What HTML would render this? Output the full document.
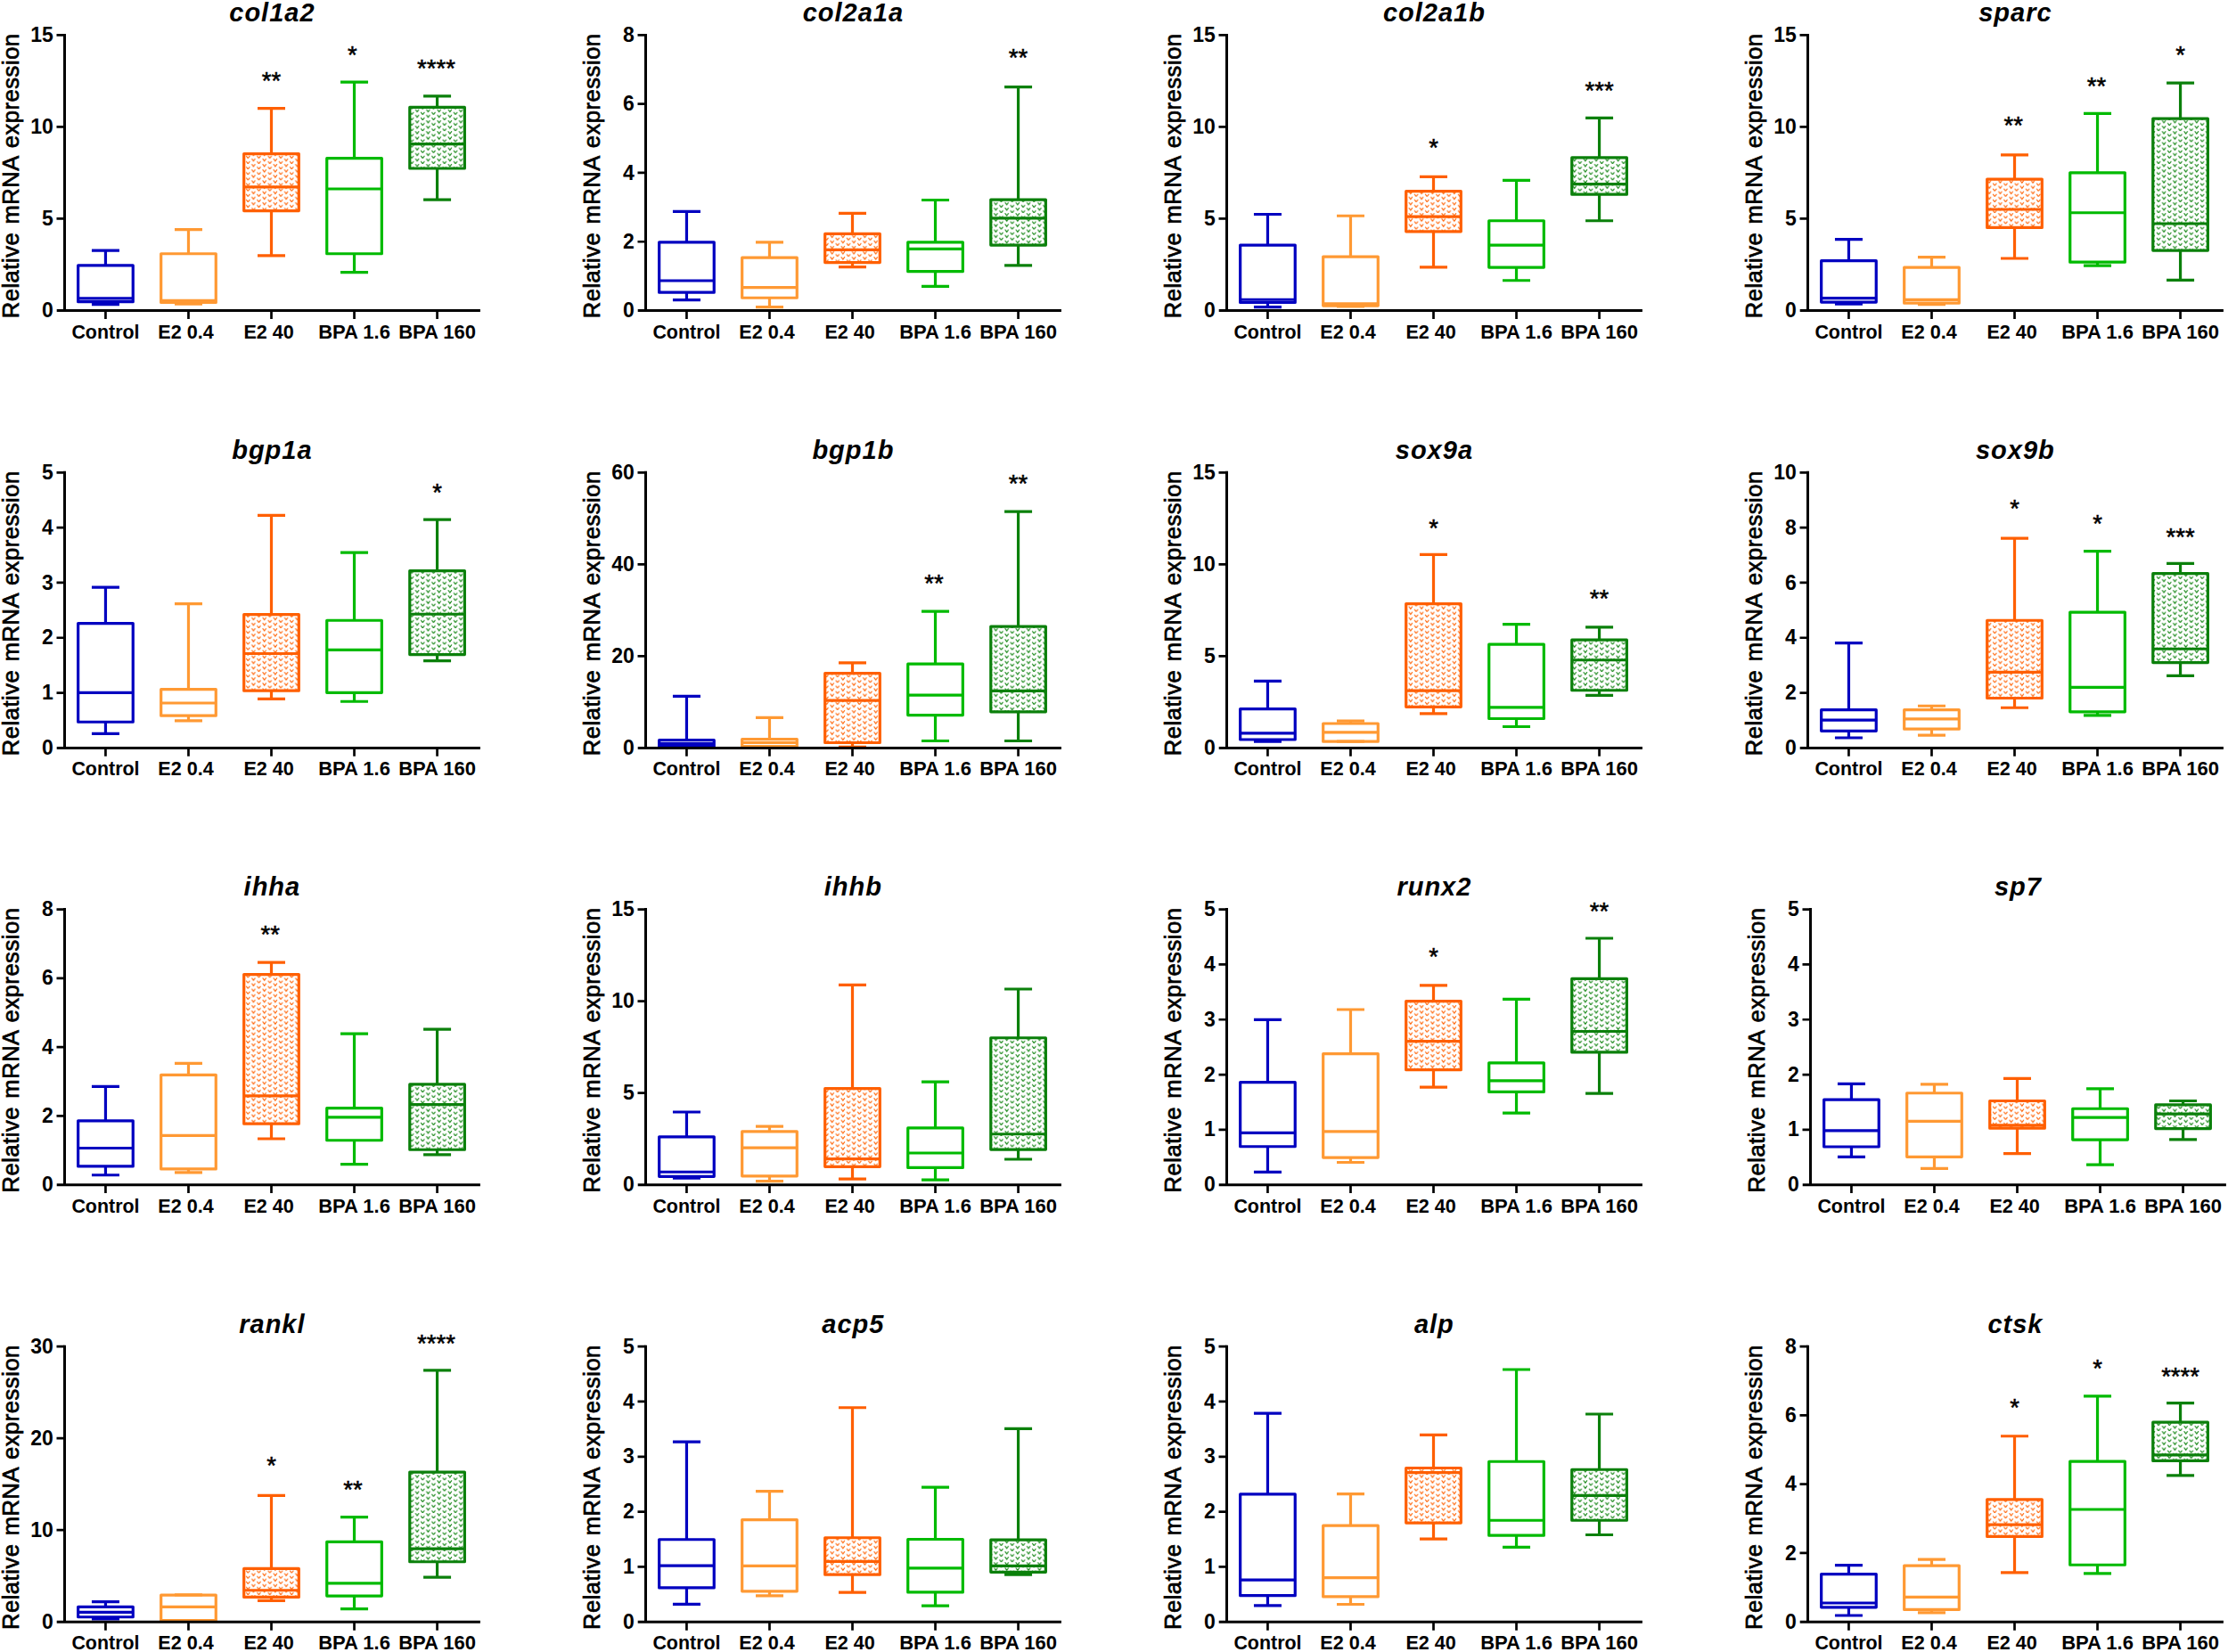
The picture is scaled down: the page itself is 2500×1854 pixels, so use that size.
<!DOCTYPE html>
<html lang="en"><head><meta charset="utf-8"><title>Relative mRNA expression box plots</title>
<style>html,body{margin:0;padding:0;background:#fff}svg{display:block}text{font-family:"Liberation Sans",sans-serif;fill:#000}.t{font-weight:bold;font-style:italic;font-size:29px;text-anchor:middle;letter-spacing:1px}.yl{font-size:25.5px;text-anchor:middle;letter-spacing:0.55px;word-spacing:1.7px;stroke:#000;stroke-width:0.7px}.tk{font-weight:bold;font-size:23px;text-anchor:end}.xl{font-weight:bold;font-size:21px;text-anchor:middle}.st{font-size:27.5px;text-anchor:middle;stroke:#000;stroke-width:0.5px}.ax{stroke:#000;stroke-width:3;fill:none;stroke-linecap:butt}.b{stroke-width:3.2;stroke-linejoin:round;stroke-linecap:butt}</style></head><body>
<svg width="2500" height="1854" viewBox="0 0 2500 1854">
<rect width="2500" height="1854" fill="#fff"/>
<defs><pattern id="po" width="12.25" height="6.13" patternUnits="userSpaceOnUse"><rect width="12.25" height="6.13" fill="#fff"/><path d="M0.9 0.6l1.75 2.3l1.75 -2.3M7.03 3.67l1.75 2.3l1.75 -2.3M-5.22 3.67l1.75 2.3l1.75 -2.3" fill="none" stroke="#FF5F00" stroke-width="1.15" stroke-opacity="0.95" stroke-linecap="round"/></pattern><pattern id="pg" width="12.25" height="6.13" patternUnits="userSpaceOnUse"><rect width="12.25" height="6.13" fill="#fff"/><path d="M0.9 0.6l1.75 2.3l1.75 -2.3M7.03 3.67l1.75 2.3l1.75 -2.3M-5.22 3.67l1.75 2.3l1.75 -2.3" fill="none" stroke="#0B800B" stroke-width="1.15" stroke-opacity="0.95" stroke-linecap="round"/></pattern></defs>
<g>
<text class="tk" x="59.9" y="356.1">0</text>
<text class="tk" x="59.9" y="253.07">5</text>
<text class="tk" x="59.9" y="150.03">10</text>
<text class="tk" x="59.9" y="47">15</text>
<text class="yl" transform="translate(20.8 197.35) rotate(-90)">Relative mRNA expression</text>
<text class="t" x="305.4" y="24.1">col1a2</text>
<text class="xl" style="font-size:21.4px" x="118.45" y="379.7">Control</text>
<text class="xl" style="font-size:21.6px" x="208.58" y="379.7">E2 0.4</text>
<text class="xl" style="font-size:21.6px" x="301.61" y="379.7">E2 40</text>
<text class="xl" style="font-size:22px" x="397.54" y="379.7">BPA 1.6</text>
<text class="xl" style="font-size:22px" x="490.57" y="379.7">BPA 160</text>
<rect class="b" x="87.65" y="297.9" width="61.6" height="40.75" fill="none" stroke="#0000C0"/>
<path class="b" d="M118.45 281.03V297.9M118.45 338.64V341.71M102.95 281.03H133.95M102.95 341.71H133.95M87.65 334.92H149.25" fill="none" stroke="#0000C0"/>
<rect class="b" x="180.68" y="284.75" width="61.6" height="54.77" fill="none" stroke="#FF9933"/>
<path class="b" d="M211.48 257.59V284.75M211.48 339.52V341.27M195.98 257.59H226.98M195.98 341.27H226.98M180.68 337.33H242.28" fill="none" stroke="#FF9933"/>
<rect class="b" x="273.71" y="172.59" width="61.6" height="63.97" fill="url(#po)" stroke="#FF5F00"/>
<path class="b" d="M304.51 121.55V172.59M304.51 236.56V286.94M289.01 121.55H320.01M289.01 286.94H320.01M273.71 209.83H335.31" fill="none" stroke="#FF5F00"/>
<rect class="b" x="366.74" y="177.63" width="61.6" height="107.12" fill="none" stroke="#00BA00"/>
<path class="b" d="M397.54 92.19V177.63M397.54 284.75V305.56M382.04 92.19H413.04M382.04 305.56H413.04M366.74 212.02H428.34" fill="none" stroke="#00BA00"/>
<rect class="b" x="459.77" y="120.45" width="61.6" height="68.57" fill="url(#pg)" stroke="#0B800B"/>
<path class="b" d="M490.57 107.97V120.45M490.57 189.02V224.07M475.07 107.97H506.07M475.07 224.07H506.07M459.77 161.64H521.37" fill="none" stroke="#0B800B"/>
<path class="ax" d="M72.5 37.9V350M63.7 348.5H538.9"/>
<path class="ax" style="stroke-width:2.7" d="M63.5 245.47H72.5M63.5 142.43H72.5M63.5 39.4H72.5M118.45 348.5V357.9M211.48 348.5V357.9M304.51 348.5V357.9M397.54 348.5V357.9M490.57 348.5V357.9"/>
<text class="st" x="304.51" y="100.02">**</text>
<text class="st" x="395.34" y="70.88">*</text>
<text class="st" x="489.47" y="86.22">****</text>
</g>
<g>
<text class="tk" x="711.9" y="356.1">0</text>
<text class="tk" x="711.9" y="278.83">2</text>
<text class="tk" x="711.9" y="201.55">4</text>
<text class="tk" x="711.9" y="124.27">6</text>
<text class="tk" x="711.9" y="47">8</text>
<text class="yl" transform="translate(672.8 197.35) rotate(-90)">Relative mRNA expression</text>
<text class="t" x="957.4" y="24.1">col2a1a</text>
<text class="xl" style="font-size:21.4px" x="770.45" y="379.7">Control</text>
<text class="xl" style="font-size:21.6px" x="860.58" y="379.7">E2 0.4</text>
<text class="xl" style="font-size:21.6px" x="953.61" y="379.7">E2 40</text>
<text class="xl" style="font-size:22px" x="1049.54" y="379.7">BPA 1.6</text>
<text class="xl" style="font-size:22px" x="1142.57" y="379.7">BPA 160</text>
<rect class="b" x="739.65" y="271.83" width="61.6" height="56.3" fill="none" stroke="#0000C0"/>
<path class="b" d="M770.45 237.43V271.83M770.45 328.13V336.67M754.95 237.43H785.95M754.95 336.67H785.95M739.65 314.98H801.25" fill="none" stroke="#0000C0"/>
<rect class="b" x="832.68" y="289.13" width="61.6" height="45.13" fill="none" stroke="#FF9933"/>
<path class="b" d="M863.48 271.83V289.13M863.48 334.26V344.56M847.98 271.83H878.98M847.98 344.56H878.98M832.68 322.65H894.28" fill="none" stroke="#FF9933"/>
<rect class="b" x="925.71" y="262.41" width="61.6" height="32.2" fill="url(#po)" stroke="#FF5F00"/>
<path class="b" d="M956.51 239.41V262.41M956.51 294.61V299.65M941.01 239.41H972.01M941.01 299.65H972.01M925.71 280.37H987.31" fill="none" stroke="#FF5F00"/>
<rect class="b" x="1018.74" y="271.83" width="61.6" height="32.86" fill="none" stroke="#00BA00"/>
<path class="b" d="M1049.54 224.51V271.83M1049.54 304.69V321.34M1034.04 224.51H1065.04M1034.04 321.34H1065.04M1018.74 279.28H1080.34" fill="none" stroke="#00BA00"/>
<rect class="b" x="1111.77" y="224.07" width="61.6" height="51.04" fill="url(#pg)" stroke="#0B800B"/>
<path class="b" d="M1142.57 97.67V224.07M1142.57 275.11V297.9M1127.07 97.67H1158.07M1127.07 297.9H1158.07M1111.77 244.88H1173.37" fill="none" stroke="#0B800B"/>
<path class="ax" d="M724.5 37.9V350M715.7 348.5H1190.9"/>
<path class="ax" style="stroke-width:2.7" d="M715.5 271.23H724.5M715.5 193.95H724.5M715.5 116.67H724.5M715.5 39.4H724.5M770.45 348.5V357.9M863.48 348.5V357.9M956.51 348.5V357.9M1049.54 348.5V357.9M1142.57 348.5V357.9"/>
<text class="st" x="1142.57" y="74.17">**</text>
</g>
<g>
<text class="tk" x="1363.9" y="356.1">0</text>
<text class="tk" x="1363.9" y="253.07">5</text>
<text class="tk" x="1363.9" y="150.03">10</text>
<text class="tk" x="1363.9" y="47">15</text>
<text class="yl" transform="translate(1324.8 197.35) rotate(-90)">Relative mRNA expression</text>
<text class="t" x="1609.4" y="24.1">col2a1b</text>
<text class="xl" style="font-size:21.4px" x="1422.45" y="379.7">Control</text>
<text class="xl" style="font-size:21.6px" x="1512.58" y="379.7">E2 0.4</text>
<text class="xl" style="font-size:21.6px" x="1605.61" y="379.7">E2 40</text>
<text class="xl" style="font-size:22px" x="1701.54" y="379.7">BPA 1.6</text>
<text class="xl" style="font-size:22px" x="1794.57" y="379.7">BPA 160</text>
<rect class="b" x="1391.65" y="275.11" width="61.6" height="64.4" fill="none" stroke="#0000C0"/>
<path class="b" d="M1422.45 240.5V275.11M1422.45 339.52V344.56M1406.95 240.5H1437.95M1406.95 344.56H1437.95M1391.65 336.23H1453.25" fill="none" stroke="#0000C0"/>
<rect class="b" x="1484.68" y="288.04" width="61.6" height="54.99" fill="none" stroke="#FF9933"/>
<path class="b" d="M1515.48 242.25V288.04M1515.48 343.02V343.9M1499.98 242.25H1530.98M1499.98 343.9H1530.98M1484.68 340.83H1546.28" fill="none" stroke="#FF9933"/>
<rect class="b" x="1577.71" y="214.65" width="61.6" height="45.13" fill="url(#po)" stroke="#FF5F00"/>
<path class="b" d="M1608.51 198.44V214.65M1608.51 259.78V299.87M1593.01 198.44H1624.01M1593.01 299.87H1624.01M1577.71 243.13H1639.31" fill="none" stroke="#FF5F00"/>
<rect class="b" x="1670.74" y="247.73" width="61.6" height="52.36" fill="none" stroke="#00BA00"/>
<path class="b" d="M1701.54 202.38V247.73M1701.54 300.09V314.76M1686.04 202.38H1717.04M1686.04 314.76H1717.04M1670.74 275.11H1732.34" fill="none" stroke="#00BA00"/>
<rect class="b" x="1763.77" y="176.97" width="61.6" height="41.18" fill="url(#pg)" stroke="#0B800B"/>
<path class="b" d="M1794.57 132.28V176.97M1794.57 218.16V247.73M1779.07 132.28H1810.07M1779.07 247.73H1810.07M1763.77 206.55H1825.37" fill="none" stroke="#0B800B"/>
<path class="ax" d="M1376.5 37.9V350M1367.7 348.5H1842.9"/>
<path class="ax" style="stroke-width:2.7" d="M1367.5 245.47H1376.5M1367.5 142.43H1376.5M1367.5 39.4H1376.5M1422.45 348.5V357.9M1515.48 348.5V357.9M1608.51 348.5V357.9M1701.54 348.5V357.9M1794.57 348.5V357.9"/>
<text class="st" x="1608.51" y="174.94">*</text>
<text class="st" x="1794.57" y="110.97">***</text>
</g>
<g>
<text class="tk" x="2015.9" y="356.1">0</text>
<text class="tk" x="2015.9" y="253.07">5</text>
<text class="tk" x="2015.9" y="150.03">10</text>
<text class="tk" x="2015.9" y="47">15</text>
<text class="yl" transform="translate(1976.8 197.35) rotate(-90)">Relative mRNA expression</text>
<text class="t" x="2261.4" y="24.1">sparc</text>
<text class="xl" style="font-size:21.4px" x="2074.45" y="379.7">Control</text>
<text class="xl" style="font-size:21.6px" x="2164.58" y="379.7">E2 0.4</text>
<text class="xl" style="font-size:21.6px" x="2257.61" y="379.7">E2 40</text>
<text class="xl" style="font-size:22px" x="2353.54" y="379.7">BPA 1.6</text>
<text class="xl" style="font-size:22px" x="2446.57" y="379.7">BPA 160</text>
<rect class="b" x="2043.65" y="292.64" width="61.6" height="46.44" fill="none" stroke="#0000C0"/>
<path class="b" d="M2074.45 268.54V292.64M2074.45 339.08V341.27M2058.95 268.54H2089.95M2058.95 341.27H2089.95M2043.65 334.7H2105.25" fill="none" stroke="#0000C0"/>
<rect class="b" x="2136.68" y="300.09" width="61.6" height="40.09" fill="none" stroke="#FF9933"/>
<path class="b" d="M2167.48 288.7V300.09M2167.48 340.18V341.71M2151.98 288.7H2182.98M2151.98 341.71H2182.98M2136.68 336.45H2198.28" fill="none" stroke="#FF9933"/>
<rect class="b" x="2229.71" y="201.07" width="61.6" height="54.33" fill="url(#po)" stroke="#FF5F00"/>
<path class="b" d="M2260.51 173.91V201.07M2260.51 255.4V290.01M2245.01 173.91H2276.01M2245.01 290.01H2276.01M2229.71 235.02H2291.31" fill="none" stroke="#FF5F00"/>
<rect class="b" x="2322.74" y="193.84" width="61.6" height="100.33" fill="none" stroke="#00BA00"/>
<path class="b" d="M2353.54 127.46V193.84M2353.54 294.17V298.12M2338.04 127.46H2369.04M2338.04 298.12H2369.04M2322.74 238.75H2384.34" fill="none" stroke="#00BA00"/>
<rect class="b" x="2415.77" y="133.16" width="61.6" height="147.87" fill="url(#pg)" stroke="#0B800B"/>
<path class="b" d="M2446.57 93.07V133.16M2446.57 281.03V314.33M2431.07 93.07H2462.07M2431.07 314.33H2462.07M2415.77 251.02H2477.37" fill="none" stroke="#0B800B"/>
<path class="ax" d="M2028.5 37.9V350M2019.7 348.5H2494.9"/>
<path class="ax" style="stroke-width:2.7" d="M2019.5 245.47H2028.5M2019.5 142.43H2028.5M2019.5 39.4H2028.5M2074.45 348.5V357.9M2167.48 348.5V357.9M2260.51 348.5V357.9M2353.54 348.5V357.9M2446.57 348.5V357.9"/>
<text class="st" x="2259.21" y="149.75">**</text>
<text class="st" x="2352.44" y="105.93">**</text>
<text class="st" x="2446.57" y="70.88">*</text>
</g>
<g>
<text class="tk" x="59.9" y="847">0</text>
<text class="tk" x="59.9" y="785.18">1</text>
<text class="tk" x="59.9" y="723.36">2</text>
<text class="tk" x="59.9" y="661.54">3</text>
<text class="tk" x="59.9" y="599.72">4</text>
<text class="tk" x="59.9" y="537.9">5</text>
<text class="yl" transform="translate(20.8 688.25) rotate(-90)">Relative mRNA expression</text>
<text class="t" x="305.4" y="515">bgp1a</text>
<text class="xl" style="font-size:21.4px" x="118.45" y="869.6">Control</text>
<text class="xl" style="font-size:21.6px" x="208.58" y="869.6">E2 0.4</text>
<text class="xl" style="font-size:21.6px" x="301.61" y="869.6">E2 40</text>
<text class="xl" style="font-size:22px" x="397.54" y="869.6">BPA 1.6</text>
<text class="xl" style="font-size:22px" x="490.57" y="869.6">BPA 160</text>
<rect class="b" x="87.65" y="699.54" width="61.6" height="110.71" fill="none" stroke="#0000C0"/>
<path class="b" d="M118.45 659.2V699.54M118.45 810.24V823.4M102.95 659.2H133.95M102.95 823.4H133.95M87.65 777.36H149.25" fill="none" stroke="#0000C0"/>
<rect class="b" x="180.68" y="773.63" width="61.6" height="29.59" fill="none" stroke="#FF9933"/>
<path class="b" d="M211.48 677.62V773.63M211.48 803.23V808.93M195.98 677.62H226.98M195.98 808.93H226.98M180.68 788.98H242.28" fill="none" stroke="#FF9933"/>
<rect class="b" x="273.71" y="689.67" width="61.6" height="85.5" fill="url(#po)" stroke="#FF5F00"/>
<path class="b" d="M304.51 578.31V689.67M304.51 775.17V784.38M289.01 578.31H320.01M289.01 784.38H320.01M273.71 733.52H335.31" fill="none" stroke="#FF5F00"/>
<rect class="b" x="366.74" y="696.25" width="61.6" height="81.11" fill="none" stroke="#00BA00"/>
<path class="b" d="M397.54 620.18V696.25M397.54 777.36V787.23M382.04 620.18H413.04M382.04 787.23H413.04M366.74 729.35H428.34" fill="none" stroke="#00BA00"/>
<rect class="b" x="459.77" y="640.57" width="61.6" height="94.05" fill="url(#pg)" stroke="#0B800B"/>
<path class="b" d="M490.57 583.13V640.57M490.57 734.61V741.63M475.07 583.13H506.07M475.07 741.63H506.07M459.77 689.23H521.37" fill="none" stroke="#0B800B"/>
<path class="ax" d="M72.5 528.8V840.9M63.7 839.4H538.9"/>
<path class="ax" style="stroke-width:2.7" d="M63.5 777.58H72.5M63.5 715.76H72.5M63.5 653.94H72.5M63.5 592.12H72.5M63.5 530.3H72.5M118.45 839.4V848.8M211.48 839.4V848.8M304.51 839.4V848.8M397.54 839.4V848.8M490.57 839.4V848.8"/>
<text class="st" x="490.57" y="561.8">*</text>
</g>
<g>
<text class="tk" x="711.9" y="847">0</text>
<text class="tk" x="711.9" y="743.97">20</text>
<text class="tk" x="711.9" y="640.93">40</text>
<text class="tk" x="711.9" y="537.9">60</text>
<text class="yl" transform="translate(672.8 688.25) rotate(-90)">Relative mRNA expression</text>
<text class="t" x="957.4" y="515">bgp1b</text>
<text class="xl" style="font-size:21.4px" x="770.45" y="869.6">Control</text>
<text class="xl" style="font-size:21.6px" x="860.58" y="869.6">E2 0.4</text>
<text class="xl" style="font-size:21.6px" x="953.61" y="869.6">E2 40</text>
<text class="xl" style="font-size:22px" x="1049.54" y="869.6">BPA 1.6</text>
<text class="xl" style="font-size:22px" x="1142.57" y="869.6">BPA 160</text>
<rect class="b" x="739.65" y="830.63" width="61.6" height="7.02" fill="none" stroke="#0000C0"/>
<path class="b" d="M770.45 781.31V830.63M770.45 837.65V838.3M754.95 781.31H785.95M754.95 838.3H785.95M739.65 834.58H801.25" fill="none" stroke="#0000C0"/>
<rect class="b" x="832.68" y="829.54" width="61.6" height="8.11" fill="none" stroke="#FF9933"/>
<path class="b" d="M863.48 805.42V829.54M863.48 837.65V838.74M847.98 805.42H878.98M847.98 838.74H878.98M832.68 833.48H894.28" fill="none" stroke="#FF9933"/>
<rect class="b" x="925.71" y="755.66" width="61.6" height="77.82" fill="url(#po)" stroke="#FF5F00"/>
<path class="b" d="M956.51 743.82V755.66M956.51 833.48V838.3M941.01 743.82H972.01M941.01 838.3H972.01M925.71 786.13H987.31" fill="none" stroke="#FF5F00"/>
<rect class="b" x="1018.74" y="745.14" width="61.6" height="57.44" fill="none" stroke="#00BA00"/>
<path class="b" d="M1049.54 686.17V745.14M1049.54 802.57V831.51M1034.04 686.17H1065.04M1034.04 831.51H1065.04M1018.74 780.21H1080.34" fill="none" stroke="#00BA00"/>
<rect class="b" x="1111.77" y="703.05" width="61.6" height="95.8" fill="url(#pg)" stroke="#0B800B"/>
<path class="b" d="M1142.57 574.14V703.05M1142.57 798.84V831.51M1127.07 574.14H1158.07M1127.07 831.51H1158.07M1111.77 775.39H1173.37" fill="none" stroke="#0B800B"/>
<path class="ax" d="M724.5 528.8V840.9M715.7 839.4H1190.9"/>
<path class="ax" style="stroke-width:2.7" d="M715.5 736.37H724.5M715.5 633.33H724.5M715.5 530.3H724.5M770.45 839.4V848.8M863.48 839.4V848.8M956.51 839.4V848.8M1049.54 839.4V848.8M1142.57 839.4V848.8"/>
<text class="st" x="1048.04" y="664.17">**</text>
<text class="st" x="1142.57" y="552.37">**</text>
</g>
<g>
<text class="tk" x="1363.9" y="847">0</text>
<text class="tk" x="1363.9" y="743.97">5</text>
<text class="tk" x="1363.9" y="640.93">10</text>
<text class="tk" x="1363.9" y="537.9">15</text>
<text class="yl" transform="translate(1324.8 688.25) rotate(-90)">Relative mRNA expression</text>
<text class="t" x="1609.4" y="515">sox9a</text>
<text class="xl" style="font-size:21.4px" x="1422.45" y="869.6">Control</text>
<text class="xl" style="font-size:21.6px" x="1512.58" y="869.6">E2 0.4</text>
<text class="xl" style="font-size:21.6px" x="1605.61" y="869.6">E2 40</text>
<text class="xl" style="font-size:22px" x="1701.54" y="869.6">BPA 1.6</text>
<text class="xl" style="font-size:22px" x="1794.57" y="869.6">BPA 160</text>
<rect class="b" x="1391.65" y="795.56" width="61.6" height="34.42" fill="none" stroke="#0000C0"/>
<path class="b" d="M1422.45 764.43V795.56M1422.45 829.97V832.17M1406.95 764.43H1437.95M1406.95 832.17H1437.95M1391.65 822.96H1453.25" fill="none" stroke="#0000C0"/>
<rect class="b" x="1484.68" y="812" width="61.6" height="20.17" fill="none" stroke="#FF9933"/>
<path class="b" d="M1515.48 809.15V812M1499.98 809.15H1530.98M1499.98 832.17H1530.98M1484.68 821.86H1546.28" fill="none" stroke="#FF9933"/>
<rect class="b" x="1577.71" y="677.62" width="61.6" height="115.75" fill="url(#po)" stroke="#FF5F00"/>
<path class="b" d="M1608.51 622.37V677.62M1608.51 793.36V800.82M1593.01 622.37H1624.01M1593.01 800.82H1624.01M1577.71 775.17H1639.31" fill="none" stroke="#FF5F00"/>
<rect class="b" x="1670.74" y="723.21" width="61.6" height="83.3" fill="none" stroke="#00BA00"/>
<path class="b" d="M1701.54 700.63V723.21M1701.54 806.52V815.51M1686.04 700.63H1717.04M1686.04 815.51H1717.04M1670.74 793.8H1732.34" fill="none" stroke="#00BA00"/>
<rect class="b" x="1763.77" y="718.17" width="61.6" height="56.56" fill="url(#pg)" stroke="#0B800B"/>
<path class="b" d="M1794.57 703.92V718.17M1794.57 774.73V780.43M1779.07 703.92H1810.07M1779.07 780.43H1810.07M1763.77 740.75H1825.37" fill="none" stroke="#0B800B"/>
<path class="ax" d="M1376.5 528.8V840.9M1367.7 839.4H1842.9"/>
<path class="ax" style="stroke-width:2.7" d="M1367.5 736.37H1376.5M1367.5 633.33H1376.5M1367.5 530.3H1376.5M1422.45 839.4V848.8M1515.48 839.4V848.8M1608.51 839.4V848.8M1701.54 839.4V848.8M1794.57 839.4V848.8"/>
<text class="st" x="1608.51" y="601.69">*</text>
<text class="st" x="1794.57" y="681.05">**</text>
</g>
<g>
<text class="tk" x="2015.9" y="847">0</text>
<text class="tk" x="2015.9" y="785.18">2</text>
<text class="tk" x="2015.9" y="723.36">4</text>
<text class="tk" x="2015.9" y="661.54">6</text>
<text class="tk" x="2015.9" y="599.72">8</text>
<text class="tk" x="2015.9" y="537.9">10</text>
<text class="yl" transform="translate(1976.8 688.25) rotate(-90)">Relative mRNA expression</text>
<text class="t" x="2261.4" y="515">sox9b</text>
<text class="xl" style="font-size:21.4px" x="2074.45" y="869.6">Control</text>
<text class="xl" style="font-size:21.6px" x="2164.58" y="869.6">E2 0.4</text>
<text class="xl" style="font-size:21.6px" x="2257.61" y="869.6">E2 40</text>
<text class="xl" style="font-size:22px" x="2353.54" y="869.6">BPA 1.6</text>
<text class="xl" style="font-size:22px" x="2446.57" y="869.6">BPA 160</text>
<rect class="b" x="2043.65" y="796.65" width="61.6" height="23.68" fill="none" stroke="#0000C0"/>
<path class="b" d="M2074.45 721.68V796.65M2074.45 820.33V828M2058.95 721.68H2089.95M2058.95 828H2089.95M2043.65 808.05H2105.25" fill="none" stroke="#0000C0"/>
<rect class="b" x="2136.68" y="796.65" width="61.6" height="21.48" fill="none" stroke="#FF9933"/>
<path class="b" d="M2167.48 792.27V796.65M2167.48 818.14V825.15M2151.98 792.27H2182.98M2151.98 825.15H2182.98M2136.68 806.96H2198.28" fill="none" stroke="#FF9933"/>
<rect class="b" x="2229.71" y="696.25" width="61.6" height="87.25" fill="url(#po)" stroke="#FF5F00"/>
<path class="b" d="M2260.51 604.18V696.25M2260.51 783.5V794.24M2245.01 604.18H2276.01M2245.01 794.24H2276.01M2229.71 754.34H2291.31" fill="none" stroke="#FF5F00"/>
<rect class="b" x="2322.74" y="687.04" width="61.6" height="111.8" fill="none" stroke="#00BA00"/>
<path class="b" d="M2353.54 618.65V687.04M2353.54 798.84V802.79M2338.04 618.65H2369.04M2338.04 802.79H2369.04M2322.74 771.44H2384.34" fill="none" stroke="#00BA00"/>
<rect class="b" x="2415.77" y="643.64" width="61.6" height="99.96" fill="url(#pg)" stroke="#0B800B"/>
<path class="b" d="M2446.57 632.46V643.64M2446.57 743.6V758.29M2431.07 632.46H2462.07M2431.07 758.29H2462.07M2415.77 728.26H2477.37" fill="none" stroke="#0B800B"/>
<path class="ax" d="M2028.5 528.8V840.9M2019.7 839.4H2494.9"/>
<path class="ax" style="stroke-width:2.7" d="M2019.5 777.58H2028.5M2019.5 715.76H2028.5M2019.5 653.94H2028.5M2019.5 592.12H2028.5M2019.5 530.3H2028.5M2074.45 839.4V848.8M2167.48 839.4V848.8M2260.51 839.4V848.8M2353.54 839.4V848.8M2446.57 839.4V848.8"/>
<text class="st" x="2260.51" y="580.21">*</text>
<text class="st" x="2353.54" y="597.31">*</text>
<text class="st" x="2446.57" y="611.56">***</text>
</g>
<g>
<text class="tk" x="59.9" y="1337.3">0</text>
<text class="tk" x="59.9" y="1260.02">2</text>
<text class="tk" x="59.9" y="1182.75">4</text>
<text class="tk" x="59.9" y="1105.47">6</text>
<text class="tk" x="59.9" y="1028.2">8</text>
<text class="yl" transform="translate(20.8 1178.55) rotate(-90)">Relative mRNA expression</text>
<text class="t" x="305.4" y="1005.3">ihha</text>
<text class="xl" style="font-size:21.4px" x="118.45" y="1360.9">Control</text>
<text class="xl" style="font-size:21.6px" x="208.58" y="1360.9">E2 0.4</text>
<text class="xl" style="font-size:21.6px" x="301.61" y="1360.9">E2 40</text>
<text class="xl" style="font-size:22px" x="397.54" y="1360.9">BPA 1.6</text>
<text class="xl" style="font-size:22px" x="490.57" y="1360.9">BPA 160</text>
<rect class="b" x="87.65" y="1257.85" width="61.6" height="51.04" fill="none" stroke="#0000C0"/>
<path class="b" d="M118.45 1219.29V1257.85M118.45 1308.89V1318.75M102.95 1219.29H133.95M102.95 1318.75H133.95M87.65 1288.52H149.25" fill="none" stroke="#0000C0"/>
<rect class="b" x="180.68" y="1206.37" width="61.6" height="105.59" fill="none" stroke="#FF9933"/>
<path class="b" d="M211.48 1193.44V1206.37M211.48 1311.96V1315.9M195.98 1193.44H226.98M195.98 1315.9H226.98M180.68 1274.28H242.28" fill="none" stroke="#FF9933"/>
<rect class="b" x="273.71" y="1093.55" width="61.6" height="167.58" fill="url(#po)" stroke="#FF5F00"/>
<path class="b" d="M304.51 1080.19V1093.55M304.51 1261.13V1278M289.01 1080.19H320.01M289.01 1278H320.01M273.71 1229.81H335.31" fill="none" stroke="#FF5F00"/>
<rect class="b" x="366.74" y="1243.61" width="61.6" height="36.15" fill="none" stroke="#00BA00"/>
<path class="b" d="M397.54 1160.14V1243.61M397.54 1279.75V1306.7M382.04 1160.14H413.04M382.04 1306.7H413.04M366.74 1253.9H428.34" fill="none" stroke="#00BA00"/>
<rect class="b" x="459.77" y="1216.88" width="61.6" height="73.39" fill="url(#pg)" stroke="#0B800B"/>
<path class="b" d="M490.57 1155.11V1216.88M490.57 1290.27V1295.96M475.07 1155.11H506.07M475.07 1295.96H506.07M459.77 1239.66H521.37" fill="none" stroke="#0B800B"/>
<path class="ax" d="M72.5 1019.1V1331.2M63.7 1329.7H538.9"/>
<path class="ax" style="stroke-width:2.7" d="M63.5 1252.42H72.5M63.5 1175.15H72.5M63.5 1097.88H72.5M63.5 1020.6H72.5M118.45 1329.7V1339.1M211.48 1329.7V1339.1M304.51 1329.7V1339.1M397.54 1329.7V1339.1M490.57 1329.7V1339.1"/>
<text class="st" x="303.21" y="1058.22">**</text>
</g>
<g>
<text class="tk" x="711.9" y="1337.3">0</text>
<text class="tk" x="711.9" y="1234.27">5</text>
<text class="tk" x="711.9" y="1131.23">10</text>
<text class="tk" x="711.9" y="1028.2">15</text>
<text class="yl" transform="translate(672.8 1178.55) rotate(-90)">Relative mRNA expression</text>
<text class="t" x="957.4" y="1005.3">ihhb</text>
<text class="xl" style="font-size:21.4px" x="770.45" y="1360.9">Control</text>
<text class="xl" style="font-size:21.6px" x="860.58" y="1360.9">E2 0.4</text>
<text class="xl" style="font-size:21.6px" x="953.61" y="1360.9">E2 40</text>
<text class="xl" style="font-size:22px" x="1049.54" y="1360.9">BPA 1.6</text>
<text class="xl" style="font-size:22px" x="1142.57" y="1360.9">BPA 160</text>
<rect class="b" x="739.65" y="1275.81" width="61.6" height="44.47" fill="none" stroke="#0000C0"/>
<path class="b" d="M770.45 1247.99V1275.81M770.45 1320.28V1322.03M754.95 1247.99H785.95M754.95 1322.03H785.95M739.65 1315.24H801.25" fill="none" stroke="#0000C0"/>
<rect class="b" x="832.68" y="1269.9" width="61.6" height="49.95" fill="none" stroke="#FF9933"/>
<path class="b" d="M863.48 1264.2V1269.9M863.48 1319.84V1325.54M847.98 1264.2H878.98M847.98 1325.54H878.98M832.68 1288.08H894.28" fill="none" stroke="#FF9933"/>
<rect class="b" x="925.71" y="1221.7" width="61.6" height="87.63" fill="url(#po)" stroke="#FF5F00"/>
<path class="b" d="M956.51 1105.38V1221.7M956.51 1309.33V1323.13M941.01 1105.38H972.01M941.01 1323.13H972.01M925.71 1300.56H987.31" fill="none" stroke="#FF5F00"/>
<rect class="b" x="1018.74" y="1265.95" width="61.6" height="44.47" fill="none" stroke="#00BA00"/>
<path class="b" d="M1049.54 1214.03V1265.95M1049.54 1310.42V1324.22M1034.04 1214.03H1065.04M1034.04 1324.22H1065.04M1018.74 1293.99H1080.34" fill="none" stroke="#00BA00"/>
<rect class="b" x="1111.77" y="1164.74" width="61.6" height="125.3" fill="url(#pg)" stroke="#0B800B"/>
<path class="b" d="M1142.57 1109.98V1164.74M1142.57 1290.05V1301M1127.07 1109.98H1158.07M1127.07 1301H1158.07M1111.77 1272.74H1173.37" fill="none" stroke="#0B800B"/>
<path class="ax" d="M724.5 1019.1V1331.2M715.7 1329.7H1190.9"/>
<path class="ax" style="stroke-width:2.7" d="M715.5 1226.67H724.5M715.5 1123.63H724.5M715.5 1020.6H724.5M770.45 1329.7V1339.1M863.48 1329.7V1339.1M956.51 1329.7V1339.1M1049.54 1329.7V1339.1M1142.57 1329.7V1339.1"/>
</g>
<g>
<text class="tk" x="1363.9" y="1337.3">0</text>
<text class="tk" x="1363.9" y="1275.48">1</text>
<text class="tk" x="1363.9" y="1213.66">2</text>
<text class="tk" x="1363.9" y="1151.84">3</text>
<text class="tk" x="1363.9" y="1090.02">4</text>
<text class="tk" x="1363.9" y="1028.2">5</text>
<text class="yl" transform="translate(1324.8 1178.55) rotate(-90)">Relative mRNA expression</text>
<text class="t" x="1609.4" y="1005.3">runx2</text>
<text class="xl" style="font-size:21.4px" x="1422.45" y="1360.9">Control</text>
<text class="xl" style="font-size:21.6px" x="1512.58" y="1360.9">E2 0.4</text>
<text class="xl" style="font-size:21.6px" x="1605.61" y="1360.9">E2 40</text>
<text class="xl" style="font-size:22px" x="1701.54" y="1360.9">BPA 1.6</text>
<text class="xl" style="font-size:22px" x="1794.57" y="1360.9">BPA 160</text>
<rect class="b" x="1391.65" y="1214.69" width="61.6" height="72.07" fill="none" stroke="#0000C0"/>
<path class="b" d="M1422.45 1144.37V1214.69M1422.45 1286.76V1315.46M1406.95 1144.37H1437.95M1406.95 1315.46H1437.95M1391.65 1271.43H1453.25" fill="none" stroke="#0000C0"/>
<rect class="b" x="1484.68" y="1182.71" width="61.6" height="116.32" fill="none" stroke="#FF9933"/>
<path class="b" d="M1515.48 1132.98V1182.71M1515.48 1299.03V1304.51M1499.98 1132.98H1530.98M1499.98 1304.51H1530.98M1484.68 1269.9H1546.28" fill="none" stroke="#FF9933"/>
<rect class="b" x="1577.71" y="1123.56" width="61.6" height="77.11" fill="url(#po)" stroke="#FF5F00"/>
<path class="b" d="M1608.51 1105.82V1123.56M1608.51 1200.67V1220.17M1593.01 1105.82H1624.01M1593.01 1220.17H1624.01M1577.71 1168.69H1639.31" fill="none" stroke="#FF5F00"/>
<rect class="b" x="1670.74" y="1192.78" width="61.6" height="32.64" fill="none" stroke="#00BA00"/>
<path class="b" d="M1701.54 1121.37V1192.78M1701.54 1225.43V1249.08M1686.04 1121.37H1717.04M1686.04 1249.08H1717.04M1670.74 1212.94H1732.34" fill="none" stroke="#00BA00"/>
<rect class="b" x="1763.77" y="1098.37" width="61.6" height="82.59" fill="url(#pg)" stroke="#0B800B"/>
<path class="b" d="M1794.57 1053.02V1098.37M1794.57 1180.96V1227.18M1779.07 1053.02H1810.07M1779.07 1227.18H1810.07M1763.77 1157.52H1825.37" fill="none" stroke="#0B800B"/>
<path class="ax" d="M1376.5 1019.1V1331.2M1367.7 1329.7H1842.9"/>
<path class="ax" style="stroke-width:2.7" d="M1367.5 1267.88H1376.5M1367.5 1206.06H1376.5M1367.5 1144.24H1376.5M1367.5 1082.42H1376.5M1367.5 1020.6H1376.5M1422.45 1329.7V1339.1M1515.48 1329.7V1339.1M1608.51 1329.7V1339.1M1701.54 1329.7V1339.1M1794.57 1329.7V1339.1"/>
<text class="st" x="1608.51" y="1082.75">*</text>
<text class="st" x="1794.57" y="1031.71">**</text>
</g>
<g>
<text class="tk" x="2018.9" y="1337.3">0</text>
<text class="tk" x="2018.9" y="1275.48">1</text>
<text class="tk" x="2018.9" y="1213.66">2</text>
<text class="tk" x="2018.9" y="1151.84">3</text>
<text class="tk" x="2018.9" y="1090.02">4</text>
<text class="tk" x="2018.9" y="1028.2">5</text>
<text class="yl" transform="translate(1979.8 1178.55) rotate(-90)">Relative mRNA expression</text>
<text class="t" x="2264.4" y="1005.3">sp7</text>
<text class="xl" style="font-size:21.4px" x="2077.45" y="1360.9">Control</text>
<text class="xl" style="font-size:21.6px" x="2167.58" y="1360.9">E2 0.4</text>
<text class="xl" style="font-size:21.6px" x="2260.61" y="1360.9">E2 40</text>
<text class="xl" style="font-size:22px" x="2356.54" y="1360.9">BPA 1.6</text>
<text class="xl" style="font-size:22px" x="2449.57" y="1360.9">BPA 160</text>
<rect class="b" x="2046.65" y="1234.19" width="61.6" height="52.79" fill="none" stroke="#0000C0"/>
<path class="b" d="M2077.45 1216.44V1234.19M2077.45 1286.98V1298.37M2061.95 1216.44H2092.95M2061.95 1298.37H2092.95M2046.65 1268.8H2108.25" fill="none" stroke="#0000C0"/>
<rect class="b" x="2139.68" y="1226.74" width="61.6" height="71.63" fill="none" stroke="#FF9933"/>
<path class="b" d="M2170.48 1216.88V1226.74M2170.48 1298.37V1311.3M2154.98 1216.88H2185.98M2154.98 1311.3H2185.98M2139.68 1258.28H2201.28" fill="none" stroke="#FF9933"/>
<rect class="b" x="2232.71" y="1235.5" width="61.6" height="30.67" fill="url(#po)" stroke="#FF5F00"/>
<path class="b" d="M2263.51 1210.31V1235.5M2263.51 1266.17V1294.65M2248.01 1210.31H2279.01M2248.01 1294.65H2279.01M2232.71 1262.89H2294.31" fill="none" stroke="#FF5F00"/>
<rect class="b" x="2325.74" y="1244.26" width="61.6" height="34.83" fill="none" stroke="#00BA00"/>
<path class="b" d="M2356.54 1221.92V1244.26M2356.54 1279.1V1307.14M2341.04 1221.92H2372.04M2341.04 1307.14H2372.04M2325.74 1254.12H2387.34" fill="none" stroke="#00BA00"/>
<rect class="b" x="2418.77" y="1239.88" width="61.6" height="26.73" fill="url(#pg)" stroke="#0B800B"/>
<path class="b" d="M2449.57 1235.5V1239.88M2449.57 1266.61V1278.88M2434.07 1235.5H2465.07M2434.07 1278.88H2465.07M2418.77 1250.18H2480.37" fill="none" stroke="#0B800B"/>
<path class="ax" d="M2031.5 1019.1V1331.2M2022.7 1329.7H2497.9"/>
<path class="ax" style="stroke-width:2.7" d="M2022.5 1267.88H2031.5M2022.5 1206.06H2031.5M2022.5 1144.24H2031.5M2022.5 1082.42H2031.5M2022.5 1020.6H2031.5M2077.45 1329.7V1339.1M2170.48 1329.7V1339.1M2263.51 1329.7V1339.1M2356.54 1329.7V1339.1M2449.57 1329.7V1339.1"/>
</g>
<g>
<text class="tk" x="59.9" y="1827.85">0</text>
<text class="tk" x="59.9" y="1724.82">10</text>
<text class="tk" x="59.9" y="1621.78">20</text>
<text class="tk" x="59.9" y="1518.75">30</text>
<text class="yl" transform="translate(20.8 1669.1) rotate(-90)">Relative mRNA expression</text>
<text class="t" x="305.4" y="1495.85">rankl</text>
<text class="xl" style="font-size:21.4px" x="118.45" y="1851.45">Control</text>
<text class="xl" style="font-size:21.6px" x="208.58" y="1851.45">E2 0.4</text>
<text class="xl" style="font-size:21.6px" x="301.61" y="1851.45">E2 40</text>
<text class="xl" style="font-size:22px" x="397.54" y="1851.45">BPA 1.6</text>
<text class="xl" style="font-size:22px" x="490.57" y="1851.45">BPA 160</text>
<rect class="b" x="87.65" y="1803.37" width="61.6" height="11.4" fill="none" stroke="#0000C0"/>
<path class="b" d="M118.45 1797.67V1803.37M118.45 1814.77V1816.96M102.95 1797.67H133.95M102.95 1816.96H133.95M87.65 1809.29H149.25" fill="none" stroke="#0000C0"/>
<rect class="b" x="180.68" y="1790.22" width="61.6" height="28.5" fill="none" stroke="#FF9933"/>
<path class="b" d="M211.48 1789.78V1790.22M211.48 1818.72V1819.15M195.98 1789.78H226.98M195.98 1819.15H226.98M180.68 1803.37H242.28" fill="none" stroke="#FF9933"/>
<rect class="b" x="273.71" y="1760.4" width="61.6" height="32.01" fill="url(#po)" stroke="#FF5F00"/>
<path class="b" d="M304.51 1678.41V1760.4M304.51 1792.41V1796.36M289.01 1678.41H320.01M289.01 1796.36H320.01M273.71 1784.74H335.31" fill="none" stroke="#FF5F00"/>
<rect class="b" x="366.74" y="1730.37" width="61.6" height="60.72" fill="none" stroke="#00BA00"/>
<path class="b" d="M397.54 1702.53V1730.37M397.54 1791.09V1805.56M382.04 1702.53H413.04M382.04 1805.56H413.04M366.74 1776.84H428.34" fill="none" stroke="#00BA00"/>
<rect class="b" x="459.77" y="1652.11" width="61.6" height="100.62" fill="url(#pg)" stroke="#0B800B"/>
<path class="b" d="M490.57 1537.89V1652.11M490.57 1752.73V1770.05M475.07 1537.89H506.07M475.07 1770.05H506.07M459.77 1738.04H521.37" fill="none" stroke="#0B800B"/>
<path class="ax" d="M72.5 1509.65V1821.75M63.7 1820.25H538.9"/>
<path class="ax" style="stroke-width:2.7" d="M63.5 1717.22H72.5M63.5 1614.18H72.5M63.5 1511.15H72.5M118.45 1820.25V1829.65M211.48 1820.25V1829.65M304.51 1820.25V1829.65M397.54 1820.25V1829.65M490.57 1820.25V1829.65"/>
<text class="st" x="304.51" y="1654.45">*</text>
<text class="st" x="396.04" y="1680.75">**</text>
<text class="st" x="489.47" y="1517.22">****</text>
</g>
<g>
<text class="tk" x="711.9" y="1827.85">0</text>
<text class="tk" x="711.9" y="1766.03">1</text>
<text class="tk" x="711.9" y="1704.21">2</text>
<text class="tk" x="711.9" y="1642.39">3</text>
<text class="tk" x="711.9" y="1580.57">4</text>
<text class="tk" x="711.9" y="1518.75">5</text>
<text class="yl" transform="translate(672.8 1669.1) rotate(-90)">Relative mRNA expression</text>
<text class="t" x="957.4" y="1495.85">acp5</text>
<text class="xl" style="font-size:21.4px" x="770.45" y="1851.45">Control</text>
<text class="xl" style="font-size:21.6px" x="860.58" y="1851.45">E2 0.4</text>
<text class="xl" style="font-size:21.6px" x="953.61" y="1851.45">E2 40</text>
<text class="xl" style="font-size:22px" x="1049.54" y="1851.45">BPA 1.6</text>
<text class="xl" style="font-size:22px" x="1142.57" y="1851.45">BPA 160</text>
<rect class="b" x="739.65" y="1727.74" width="61.6" height="54.15" fill="none" stroke="#0000C0"/>
<path class="b" d="M770.45 1618.13V1727.74M770.45 1781.89V1800.3M754.95 1618.13H785.95M754.95 1800.3H785.95M739.65 1757.11H801.25" fill="none" stroke="#0000C0"/>
<rect class="b" x="832.68" y="1705.6" width="61.6" height="80.23" fill="none" stroke="#FF9933"/>
<path class="b" d="M863.48 1673.59V1705.6M863.48 1785.83V1790.87M847.98 1673.59H878.98M847.98 1790.87H878.98M832.68 1757.33H894.28" fill="none" stroke="#FF9933"/>
<rect class="b" x="925.71" y="1725.77" width="61.6" height="41.43" fill="url(#po)" stroke="#FF5F00"/>
<path class="b" d="M956.51 1579.77V1725.77M956.51 1767.2V1787.15M941.01 1579.77H972.01M941.01 1787.15H972.01M925.71 1752.29H987.31" fill="none" stroke="#FF5F00"/>
<rect class="b" x="1018.74" y="1727.52" width="61.6" height="59.41" fill="none" stroke="#00BA00"/>
<path class="b" d="M1049.54 1669.21V1727.52M1049.54 1786.93V1802.05M1034.04 1669.21H1065.04M1034.04 1802.05H1065.04M1018.74 1759.96H1080.34" fill="none" stroke="#00BA00"/>
<rect class="b" x="1111.77" y="1728.18" width="61.6" height="36.17" fill="url(#pg)" stroke="#0B800B"/>
<path class="b" d="M1142.57 1603.44V1728.18M1142.57 1764.35V1767.2M1127.07 1603.44H1158.07M1127.07 1767.2H1158.07M1111.77 1757.33H1173.37" fill="none" stroke="#0B800B"/>
<path class="ax" d="M724.5 1509.65V1821.75M715.7 1820.25H1190.9"/>
<path class="ax" style="stroke-width:2.7" d="M715.5 1758.43H724.5M715.5 1696.61H724.5M715.5 1634.79H724.5M715.5 1572.97H724.5M715.5 1511.15H724.5M770.45 1820.25V1829.65M863.48 1820.25V1829.65M956.51 1820.25V1829.65M1049.54 1820.25V1829.65M1142.57 1820.25V1829.65"/>
</g>
<g>
<text class="tk" x="1363.9" y="1827.85">0</text>
<text class="tk" x="1363.9" y="1766.03">1</text>
<text class="tk" x="1363.9" y="1704.21">2</text>
<text class="tk" x="1363.9" y="1642.39">3</text>
<text class="tk" x="1363.9" y="1580.57">4</text>
<text class="tk" x="1363.9" y="1518.75">5</text>
<text class="yl" transform="translate(1324.8 1669.1) rotate(-90)">Relative mRNA expression</text>
<text class="t" x="1609.4" y="1495.85">alp</text>
<text class="xl" style="font-size:21.4px" x="1422.45" y="1851.45">Control</text>
<text class="xl" style="font-size:21.6px" x="1512.58" y="1851.45">E2 0.4</text>
<text class="xl" style="font-size:21.6px" x="1605.61" y="1851.45">E2 40</text>
<text class="xl" style="font-size:22px" x="1701.54" y="1851.45">BPA 1.6</text>
<text class="xl" style="font-size:22px" x="1794.57" y="1851.45">BPA 160</text>
<rect class="b" x="1391.65" y="1676.88" width="61.6" height="113.78" fill="none" stroke="#0000C0"/>
<path class="b" d="M1422.45 1586.12V1676.88M1422.45 1790.66V1801.84M1406.95 1586.12H1437.95M1406.95 1801.84H1437.95M1391.65 1773.12H1453.25" fill="none" stroke="#0000C0"/>
<rect class="b" x="1484.68" y="1712.17" width="61.6" height="79.8" fill="none" stroke="#FF9933"/>
<path class="b" d="M1515.48 1676.66V1712.17M1515.48 1791.97V1800.52M1499.98 1676.66H1530.98M1499.98 1800.52H1530.98M1484.68 1770.71H1546.28" fill="none" stroke="#FF9933"/>
<rect class="b" x="1577.71" y="1647.5" width="61.6" height="61.6" fill="url(#po)" stroke="#FF5F00"/>
<path class="b" d="M1608.51 1610.46V1647.5M1608.51 1709.11V1727.08M1593.01 1610.46H1624.01M1593.01 1727.08H1624.01M1577.71 1652.55H1639.31" fill="none" stroke="#FF5F00"/>
<rect class="b" x="1670.74" y="1640.27" width="61.6" height="82.87" fill="none" stroke="#00BA00"/>
<path class="b" d="M1701.54 1537.02V1640.27M1701.54 1723.14V1736.29M1686.04 1537.02H1717.04M1686.04 1736.29H1717.04M1670.74 1706.26H1732.34" fill="none" stroke="#00BA00"/>
<rect class="b" x="1763.77" y="1649.26" width="61.6" height="57" fill="url(#pg)" stroke="#0B800B"/>
<path class="b" d="M1794.57 1587V1649.26M1794.57 1706.26V1722.48M1779.07 1587H1810.07M1779.07 1722.48H1810.07M1763.77 1678.41H1825.37" fill="none" stroke="#0B800B"/>
<path class="ax" d="M1376.5 1509.65V1821.75M1367.7 1820.25H1842.9"/>
<path class="ax" style="stroke-width:2.7" d="M1367.5 1758.43H1376.5M1367.5 1696.61H1376.5M1367.5 1634.79H1376.5M1367.5 1572.97H1376.5M1367.5 1511.15H1376.5M1422.45 1820.25V1829.65M1515.48 1820.25V1829.65M1608.51 1820.25V1829.65M1701.54 1820.25V1829.65M1794.57 1820.25V1829.65"/>
</g>
<g>
<text class="tk" x="2015.9" y="1827.85">0</text>
<text class="tk" x="2015.9" y="1750.57">2</text>
<text class="tk" x="2015.9" y="1673.3">4</text>
<text class="tk" x="2015.9" y="1596.02">6</text>
<text class="tk" x="2015.9" y="1518.75">8</text>
<text class="yl" transform="translate(1976.8 1669.1) rotate(-90)">Relative mRNA expression</text>
<text class="t" x="2261.4" y="1495.85">ctsk</text>
<text class="xl" style="font-size:21.4px" x="2074.45" y="1851.45">Control</text>
<text class="xl" style="font-size:21.6px" x="2164.58" y="1851.45">E2 0.4</text>
<text class="xl" style="font-size:21.6px" x="2257.61" y="1851.45">E2 40</text>
<text class="xl" style="font-size:22px" x="2353.54" y="1851.45">BPA 1.6</text>
<text class="xl" style="font-size:22px" x="2446.57" y="1851.45">BPA 160</text>
<rect class="b" x="2043.65" y="1766.54" width="61.6" height="37.27" fill="none" stroke="#0000C0"/>
<path class="b" d="M2074.45 1756.68V1766.54M2074.45 1803.81V1813.02M2058.95 1756.68H2089.95M2058.95 1813.02H2089.95M2043.65 1798.99H2105.25" fill="none" stroke="#0000C0"/>
<rect class="b" x="2136.68" y="1757.11" width="61.6" height="49.32" fill="none" stroke="#FF9933"/>
<path class="b" d="M2167.48 1750.1V1757.11M2167.48 1806.44V1809.95M2151.98 1750.1H2182.98M2151.98 1809.95H2182.98M2136.68 1792.41H2198.28" fill="none" stroke="#FF9933"/>
<rect class="b" x="2229.71" y="1682.8" width="61.6" height="41.65" fill="url(#po)" stroke="#FF5F00"/>
<path class="b" d="M2260.51 1611.77V1682.8M2260.51 1724.45V1764.79M2245.01 1611.77H2276.01M2245.01 1764.79H2276.01M2229.71 1711.08H2291.31" fill="none" stroke="#FF5F00"/>
<rect class="b" x="2322.74" y="1640.05" width="61.6" height="116.19" fill="none" stroke="#00BA00"/>
<path class="b" d="M2353.54 1566.83V1640.05M2353.54 1756.24V1765.88M2338.04 1566.83H2369.04M2338.04 1765.88H2369.04M2322.74 1693.98H2384.34" fill="none" stroke="#00BA00"/>
<rect class="b" x="2415.77" y="1596.21" width="61.6" height="43.19" fill="url(#pg)" stroke="#0B800B"/>
<path class="b" d="M2446.57 1574.72V1596.21M2446.57 1639.39V1655.84M2431.07 1574.72H2462.07M2431.07 1655.84H2462.07M2415.77 1632.82H2477.37" fill="none" stroke="#0B800B"/>
<path class="ax" d="M2028.5 1509.65V1821.75M2019.7 1820.25H2494.9"/>
<path class="ax" style="stroke-width:2.7" d="M2019.5 1742.97H2028.5M2019.5 1665.7H2028.5M2019.5 1588.42H2028.5M2019.5 1511.15H2028.5M2074.45 1820.25V1829.65M2167.48 1820.25V1829.65M2260.51 1820.25V1829.65M2353.54 1820.25V1829.65M2446.57 1820.25V1829.65"/>
<text class="st" x="2260.51" y="1589.12">*</text>
<text class="st" x="2353.54" y="1545.28">*</text>
<text class="st" x="2446.57" y="1553.61">****</text>
</g>
</svg></body></html>
